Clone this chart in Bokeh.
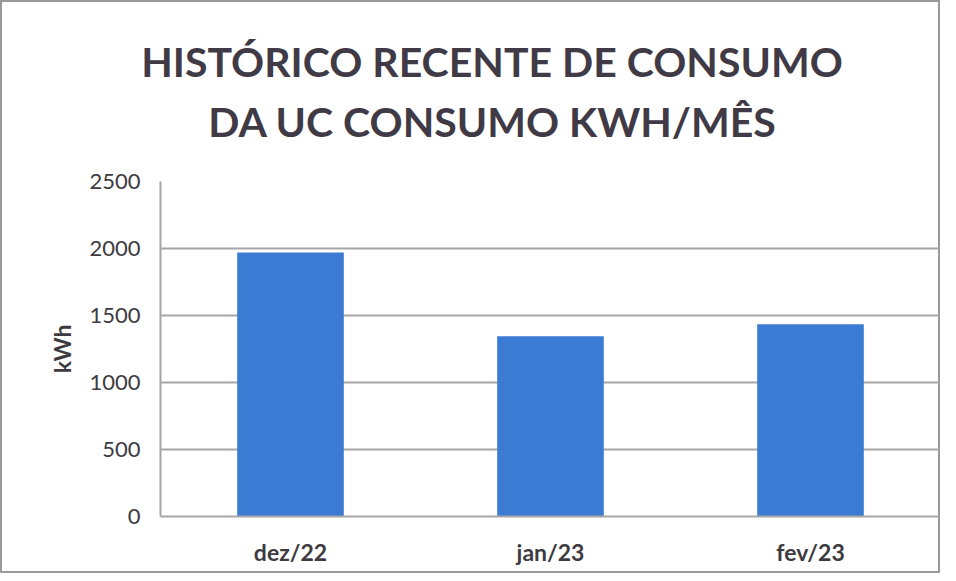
from bokeh.plotting import figure
from bokeh.models import Div, FactorRange, Range1d, ColumnDataSource
from bokeh.layouts import column
from bokeh.embed import file_html
from bokeh.resources import INLINE

months = ["dez/22", "jan/23", "fev/23"]
consumo = [1970, 1345, 1435]
y_ticks = [0, 500, 1000, 1500, 2000, 2500]
title_1 = "HISTÓRICO RECENTE DE CONSUMO"
title_2 = "DA UC CONSUMO KWH/MÊS"
y_label = "kWh"

FONT = "Lato"
TXT = "#3d3b40"
GRID = "#a6a6a6"

source = ColumnDataSource(dict(month=months, kwh=consumo))

title_div = Div(
    text=f"{title_1}<br>{title_2}",
    width=940, height=165, margin=0,
    styles={"font-family": "Lato", "font-weight": "bold", "font-size": "41px",
            "line-height": "60px", "color": "#3f3a45", "text-align": "center",
            "padding-top": "32px", "padding-left": "44px",
            "box-sizing": "border-box", "width": "940px"},
)

p = figure(x_range=FactorRange(*months), y_range=Range1d(0, 2500),
           width=940, height=408, output_backend="svg", toolbar_location=None,
           min_border_left=160, min_border_right=0, min_border_top=16,
           min_border_bottom=57, margin=0)

p.vbar(x="month", top="kwh", width=0.41, source=source,
       fill_color="#3b7bd4", line_color=None)

p.background_fill_color = None
p.border_fill_color = None
p.outline_line_color = None

p.yaxis.ticker = y_ticks
p.yaxis.axis_label = y_label
p.yaxis.axis_label_text_font = FONT
p.yaxis.axis_label_text_font_style = "bold"
p.yaxis.axis_label_text_font_size = "23px"
p.yaxis.axis_label_text_color = TXT
p.yaxis.axis_label_standoff = 10

for ax in (p.xaxis, p.yaxis):
    ax.major_label_text_font = FONT
    ax.major_label_text_color = TXT
    ax.major_tick_line_color = None
    ax.minor_tick_line_color = None
    ax.axis_line_color = GRID
    ax.axis_line_width = 2

p.yaxis.major_label_text_font_size = "22px"
p.xaxis.major_label_text_font_size = "23px"
p.xaxis.major_label_text_font_style = "bold"
p.yaxis.major_label_standoff = 14
p.xaxis.major_label_standoff = 15

p.xgrid.grid_line_color = None
p.ygrid.grid_line_color = GRID
p.ygrid.grid_line_width = 2

layout = column(title_div, p, spacing=0)
layout.styles = {"outline": "2px solid #9a9a9a", "outline-offset": "-2px",
                 "background-color": "white"}

open("out.html", "w").write(file_html(layout, INLINE))
